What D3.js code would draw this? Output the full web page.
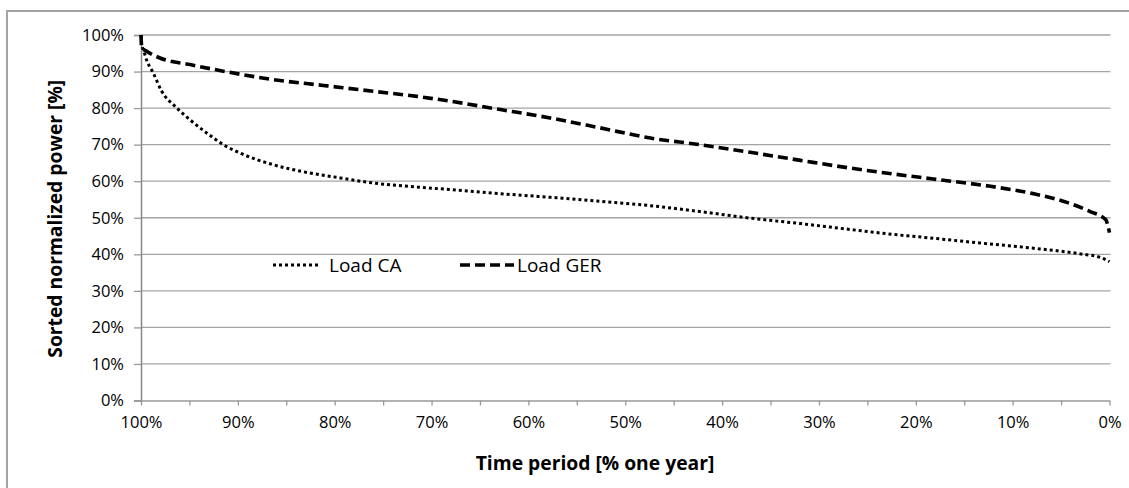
<!DOCTYPE html>
<html><head><meta charset="utf-8">
<script src="https://cdn.jsdelivr.net/npm/d3@7"></script>
<style>body{margin:0;background:#fff}svg{display:block}text{font-family:"Open Sans",sans-serif;fill:#000}</style>
</head><body>
<svg id="c" width="1129" height="488"></svg>
<script>
// Time period (% of one year) and sorted normalized power (%)
const caTime = [100, 99.9, 99.76, 99.4, 98.73, 97.86, 96.49, 94.94, 93.22, 91.5, 89.77, 86.33, 82.88, 79.44, 76, 71.5, 68, 63, 57.75, 52.6, 47.4, 42.3, 37.1, 31.9, 26.8, 21.8, 19.8, 13, 8, 2.7, 1, 0];
const caLoad = [100, 97, 96, 93, 89.6, 84.6, 80.5, 76.8, 73.2, 70, 67.7, 64.5, 62.4, 60.9, 59.5, 58.4, 57.7, 56.6, 55.6, 54.5, 53.3, 51.7, 49.9, 48.4, 46.8, 45.3, 44.8, 43, 41.7, 40, 39.2, 38];
const gerTime = [100, 99.93, 99.5, 98.04, 94.94, 91.5, 86.33, 81.17, 76, 71.5, 68.1, 62.9, 57.75, 52.6, 47.4, 42.3, 37.1, 31.9, 26.8, 21.8, 18.2, 12.3, 7.9, 4.4, 2.0, 0.4, 0];
const gerLoad = [100, 96.5, 95.7, 93.7, 91.9, 90.1, 87.8, 86.2, 84.6, 83.2, 81.9, 79.6, 77.3, 74.6, 71.8, 70, 67.9, 65.7, 63.6, 61.8, 60.6, 58.6, 56.6, 54.2, 51.7, 49.5, 45.9];
const yTicks = [0, 10, 20, 30, 40, 50, 60, 70, 80, 90, 100];
const xTicks = [100, 90, 80, 70, 60, 50, 40, 30, 20, 10, 0];
const xMinorTicks = d3.range(0, 101, 5);
const seriesNames = ["Load CA", "Load GER"];

const svg = d3.select("#c");
const L = 141, R = 1109.5, T = 35, B = 400.5;
const x = d3.scaleLinear().domain([100, 0]).range([L, R]);
const y = d3.scaleLinear().domain([0, 100]).range([B, T]);

// outer border
svg.append("rect").attr("x", 7).attr("y", 11).attr("width", 1140).attr("height", 500)
  .attr("fill", "none").attr("stroke", "#a3a3a3").attr("stroke-width", 2);

// gridlines
svg.append("g").selectAll("line").data(yTicks.filter(d => d > 0)).join("line")
  .attr("x1", L).attr("x2", R + 1).attr("y1", d => y(d)).attr("y2", d => y(d))
  .attr("stroke", "#a4a4a4").attr("stroke-width", 1.3);

// y axis
const yAxis = d3.axisLeft(y).tickValues(yTicks).tickFormat(d => d + "%").tickSize(7).tickPadding(10);
const gy = svg.append("g").attr("transform", `translate(${L},0)`).call(yAxis);
gy.select(".domain").attr("stroke", "#888").attr("stroke-width", 1.5);
gy.selectAll(".tick line").attr("stroke", "#999").attr("stroke-width", 1.3);
gy.selectAll("text").style("font-size", "16.5px").attr("fill", "#000");

// x axis
const xAxisMinor = d3.axisBottom(x).tickValues(xMinorTicks).tickFormat("").tickSize(5).tickSizeOuter(0);
const gxm = svg.append("g").attr("transform", `translate(0,${B})`).call(xAxisMinor);
gxm.select(".domain").attr("stroke", "#999").attr("stroke-width", 1.3);
gxm.selectAll(".tick line").attr("stroke", "#999").attr("stroke-width", 1.3);
const xAxis = d3.axisBottom(x).tickValues(xTicks).tickFormat(d => d + "%").tickSize(0).tickPadding(16);
const gx = svg.append("g").attr("transform", `translate(0,${B})`).call(xAxis);
gx.select(".domain").remove();
gx.selectAll("text").style("font-size", "16.5px").attr("fill", "#000");

// lines
const line = d3.line().x(d => x(d[0])).y(d => y(d[1])).curve(d3.curveMonotoneX);
const caData = caTime.map((t, i) => [t, caLoad[i]]);
const gerData = gerTime.map((t, i) => [t, gerLoad[i]]);
const caStyle = {w: 3, dash: "3,3"};
const gerStyle = {w: 3.6, dash: "10,5"};
svg.append("path").datum(caData).attr("d", line).attr("fill", "none").attr("stroke", "#000")
  .attr("stroke-width", caStyle.w).attr("stroke-dasharray", caStyle.dash);
svg.append("path").datum(gerData).attr("d", line).attr("fill", "none").attr("stroke", "#000")
  .attr("stroke-width", gerStyle.w).attr("stroke-dasharray", gerStyle.dash);

// legend
const leg = svg.append("g");
const legItems = [
  {name: seriesNames[0], x1: 273, x2: 321, tx: 329, s: caStyle},
  {name: seriesNames[1], x1: 460, x2: 514, tx: 517, s: gerStyle}
];
legItems.forEach(it => {
  leg.append("line").attr("x1", it.x1).attr("x2", it.x2).attr("y1", 265).attr("y2", 265)
    .attr("stroke", "#000").attr("stroke-width", it.s.w).attr("stroke-dasharray", it.s.dash);
  leg.append("text").attr("x", it.tx).attr("y", 265).attr("dy", "0.35em").style("font-size", "19px").text(it.name);
});

// axis titles
svg.append("text").attr("x", 595).attr("y", 463).attr("dy", "0.35em").attr("text-anchor", "middle")
  .style("font-size", "19.3px").style("font-weight", "bold").text("Time period [% one year]");
svg.append("text").attr("transform", `translate(55,${(T + B) / 2 + 1}) rotate(-90)`).attr("dy", "0.35em")
  .attr("text-anchor", "middle").style("font-size", "19.3px").style("font-weight", "bold")
  .text("Sorted normalized power  [%]");
</script>
</body></html>
